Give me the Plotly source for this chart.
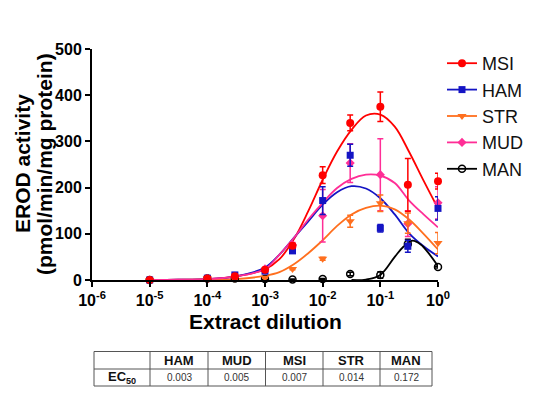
import plotly.graph_objects as go

# ---------------- data ----------------
doses = [1e-5, 1e-4, 3e-4, 1e-3, 3e-3, 1e-2, 3e-2, 1e-1, 3e-1, 1.0]

msi = [0, 3, 8, 22, 74, 227, 340, 375, 206, 214]
msi_err = [0, 1, 2, 3, 5, 18, 17, 32, 57, 17]
ham = [0, 4, 11, 19, 63, 172, 270, 112, 73, 155]
ham_err = [0, 1, 2, 3, 4, 30, 24, 8, 13, 25]
str_ = [0, 4, 3, 5, 24, 46, 127, 166, 123, 80]
str_err = [0, 1, 1, 1, 2, 3, 13, 18, 22, 23]
mud = [0, 3, 8, 24, 76, 139, 253, 228, 122, 167]
mud_err = [0, 1, 2, 3, 5, 57, 42, 78, 28, 35]
man = [0, 3, 3, 2, 1, 2, 13, 11, 78, 28]
man_err = [0, 1, 1, 1, 1, 1, 4, 7, 10, 2]

# fitted curves (log10 of dilution)
fit_logx = [-5, -4.5, -4, -3.5, -3, -2.75, -2.5, -2.25, -2, -1.75, -1.5, -1.25, -1, -0.75, -0.5, -0.25, 0]
msi_fit = [0, 0.5, 2, 8, 23, 45, 88, 149, 217, 278, 325, 356, 358, 332, 277, 215, 155]
ham_fit = [0, 0.5, 2, 8, 27, 55, 91, 127, 163, 190, 203, 198, 177, 142, 101, 73, 51]
mud_fit = [0, 0.5, 2, 8, 24, 55, 91, 131, 167, 199, 219, 228, 226, 210, 172, 142, 114]
str_fit = [0, 0, 0.5, 2, 9, 17, 34, 58, 86, 117, 142, 156, 161, 153, 131, 100, 66]
man_fit_logx = [-1.5, -1.25, -1, -0.75, -0.6, -0.45, -0.3, -0.15, 0]
man_fit = [0, 1, 11, 50, 72, 85, 77, 56, 30]

x_tickvals = [1e-6, 1e-5, 1e-4, 1e-3, 1e-2, 1e-1, 1]
x_ticktext = ["10<sup>-6</sup>", "10<sup>-5</sup>", "10<sup>-4</sup>", "10<sup>-3</sup>",
              "10<sup>-2</sup>", "10<sup>-1</sup>", "10<sup>0</sup>"]
y_tickvals = [0, 100, 200, 300, 400, 500]

table_cols = ["HAM", "MUD", "MSI", "STR", "MAN"]
table_row_label = "EC<sub>50</sub>"
table_vals = ["0.003", "0.005", "0.007", "0.014", "0.172"]

# ---------------- styling ----------------
FONT = "Liberation Sans, Arial, sans-serif"
OFF = 8  # page body margin
W, H = 533 - 2 * OFF, 397 - 2 * OFF
# plot area in screen pixels: x 92..438, y 49..280
SX0, SX1, SY0, SY1 = 92, 438, 49, 280
L, T = SX0 - OFF, SY0 - OFF
R, B = W - (SX1 - OFF), H - (SY1 - OFF)
PW, PH = SX1 - SX0, SY1 - SY0


def px_x(p):
    return (p - SX0) / PW


def px_y(p):
    return (SY1 - p) / PH


series = [
    ("MSI", msi, msi_err, msi_fit, fit_logx, "#FF0000", dict(symbol="circle", size=8)),
    ("HAM", ham, ham_err, ham_fit, fit_logx, "#1414C4", dict(symbol="square", size=7)),
    ("STR", str_, str_err, str_fit, fit_logx, "#FF6F1E", dict(symbol="triangle-down", size=8)),
    ("MUD", mud, mud_err, mud_fit, fit_logx, "#FF2E96", dict(symbol="diamond", size=7)),
    ("MAN", man, man_err, man_fit, man_fit_logx, "#000000",
     dict(symbol="circle-open", size=7, line=dict(width=1.5))),
]

fig = go.Figure()

# curves
for name, y, e, fy, flx, col, mk in series:
    fig.add_trace(go.Scatter(
        x=[10 ** v for v in flx], y=fy, mode="lines",
        line=dict(color=col, width=1.8, shape="spline", smoothing=1.0),
        showlegend=False, hoverinfo="skip", cliponaxis=False))

# points with error bars
for name, y, e, fy, flx, col, mk in reversed(series):
    fig.add_trace(go.Scatter(
        x=doses, y=y, mode="markers",
        marker=dict(color=col, **mk),
        error_y=dict(type="data", array=e, visible=True, color=col, thickness=1.5, width=3),
        showlegend=False, cliponaxis=False))

# legend entries
for name, y, e, fy, flx, col, mk in series:
    fig.add_trace(go.Scatter(
        x=[None], y=[None], mode="lines+markers", name=name,
        line=dict(color=col, width=1.8), marker=dict(color=col, **mk)))

# table drawn with shapes + annotations
t_top, t_mid, t_bot = 351.5, 369, 386
col_edges = [94, 150, 208, 265.5, 323, 380, 432]
line_col = "#555555"
for yy in (t_top, t_mid, t_bot):
    fig.add_shape(type="line", xref="paper", yref="paper",
                  x0=px_x(col_edges[0]), x1=px_x(col_edges[-1]), y0=px_y(yy), y1=px_y(yy),
                  line=dict(color=line_col, width=1))
for xx in col_edges:
    fig.add_shape(type="line", xref="paper", yref="paper",
                  x0=px_x(xx), x1=px_x(xx), y0=px_y(t_top), y1=px_y(t_bot),
                  line=dict(color=line_col, width=1))
for i, (c, v) in enumerate(zip(table_cols, table_vals)):
    cx = (col_edges[i + 1] + col_edges[i + 2]) / 2
    fig.add_annotation(x=px_x(cx), y=px_y((t_top + t_mid) / 2), xref="paper", yref="paper",
                       text="<b>" + c + "</b>", showarrow=False, xanchor="center", yanchor="middle",
                       font=dict(family=FONT, size=13, color="#111111"))
    fig.add_annotation(x=px_x(cx), y=px_y((t_mid + t_bot) / 2), xref="paper", yref="paper",
                       text=v, showarrow=False, xanchor="center", yanchor="middle",
                       font=dict(family=FONT, size=10, color="#333333"))
fig.add_annotation(x=px_x((col_edges[0] + col_edges[1]) / 2), y=px_y((t_mid + t_bot) / 2),
                   xref="paper", yref="paper", text="<b>" + table_row_label + "</b>",
                   showarrow=False, xanchor="center", yanchor="middle",
                   font=dict(family=FONT, size=13, color="#111111"))

# y title (two lines)
fig.add_annotation(x=px_x(22), y=px_y(164), xref="paper", yref="paper", text="<b>EROD activity</b>",
                   textangle=-90, showarrow=False, xanchor="center", yanchor="middle",
                   font=dict(family=FONT, size=21, color="black"))
fig.add_annotation(x=px_x(44), y=px_y(164), xref="paper", yref="paper",
                   text="<b>(pmol/min/mg protein)</b>",
                   textangle=-90, showarrow=False, xanchor="center", yanchor="middle",
                   font=dict(family=FONT, size=21, color="black"))
# x title
fig.add_annotation(x=px_x(265), y=px_y(321), xref="paper", yref="paper", text="<b>Extract dilution</b>",
                   showarrow=False, xanchor="center", yanchor="middle",
                   font=dict(family=FONT, size=21, color="black"))

fig.update_layout(
    width=W, height=H,
    margin=dict(l=L, r=R, t=T, b=B, pad=0, autoexpand=False),
    paper_bgcolor="white", plot_bgcolor="white",
    font=dict(family=FONT, color="black"),
    showlegend=True,
    legend=dict(x=px_x(442), y=px_y(45), xanchor="left", yanchor="top",
                font=dict(family=FONT, size=18, color="#111111"),
                bgcolor="rgba(0,0,0,0)", borderwidth=0, itemwidth=30,
                tracegroupgap=0),
    xaxis=dict(type="log", range=[-6, 0], tickvals=x_tickvals, ticktext=x_ticktext,
               showgrid=False, zeroline=False, showline=True, linecolor="black", linewidth=2,
               ticks="outside", ticklen=5, tickwidth=2, tickcolor="black",
               tickfont=dict(family=FONT, size=16, color="black", weight="bold")),
    yaxis=dict(range=[0, 500], tickvals=y_tickvals,
               showgrid=False, zeroline=False, showline=True, linecolor="black", linewidth=2,
               ticks="outside", ticklen=5, tickwidth=2, tickcolor="black",
               tickfont=dict(family=FONT, size=16, color="black", weight="bold")),
)

fig.write_html("out.html")
